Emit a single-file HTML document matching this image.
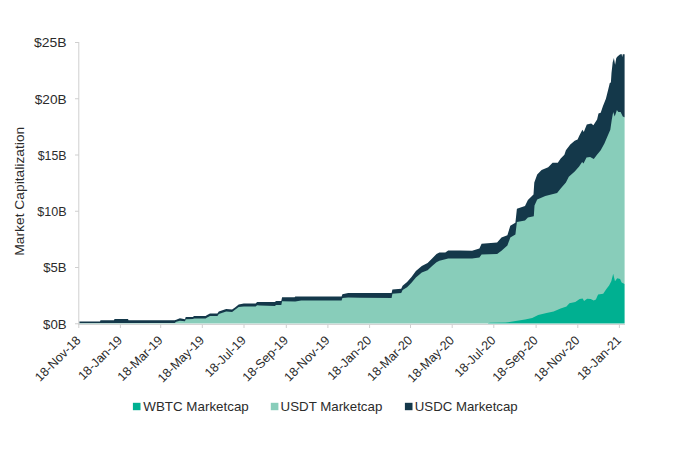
<!DOCTYPE html>
<html><head><meta charset="utf-8"><title>Market Capitalization</title>
<style>
html,body{margin:0;padding:0;background:#fff;}
body{width:680px;height:455px;overflow:hidden;position:relative;}
svg{position:absolute;left:0;top:0;display:block;}
text{font-family:"Liberation Sans",sans-serif;fill:#2b2b2b;}
</style></head><body>
<svg width="680" height="455" viewBox="0 0 680 455">
<rect width="680" height="455" fill="#fff"/>
<polygon points="79.3,326 79.3,321.5 100.0,321.5 100.5,320.3 114.0,320.3 114.5,319.0 128.0,319.0 128.5,320.3 160.0,320.3 174.7,320.3 176.2,319.7 179.9,318.2 185.0,319.3 185.7,317.1 193.1,317.1 193.8,315.9 205.6,315.9 207.1,314.9 210.0,313.4 217.4,313.4 218.8,311.5 223.2,310.0 226.2,309.0 232.1,309.4 235.0,307.5 238.7,304.6 243.8,303.5 255.6,303.5 257.1,302.1 260.0,302.1 274.7,302.1 276.2,300.9 281.3,300.9 282.1,297.2 294.6,297.2 295.3,296.5 341.6,296.5 342.4,294.3 348.2,293.1 360.0,293.1 391.6,293.1 392.4,289.4 401.2,288.7 402.6,285.7 407.1,282.1 411.5,276.9 415.9,271.0 421.8,265.9 427.6,262.9 432.1,258.5 436.5,254.1 439.4,252.6 445.3,252.4 448.2,250.5 460.0,250.5 472.1,250.7 479.4,248.5 481.6,243.8 497.1,242.6 501.5,237.5 507.4,235.3 510.3,225.7 515.4,222.8 516.9,208.8 525.0,205.9 527.9,200.0 533.5,194.4 534.3,182.6 537.2,174.6 541.6,170.1 548.2,167.2 552.6,162.8 557.8,162.8 560.7,158.4 564.4,154.7 565.9,150.3 570.3,144.4 574.7,140.7 577.6,139.5 579.4,135.6 582.4,129.7 583.8,131.9 586.8,124.6 591.2,123.5 593.4,125.3 597.1,119.4 598.5,113.5 600.7,112.8 602.9,106.2 605.9,98.8 608.1,90.0 609.8,83.1 610.9,82.5 611.5,73.0 612.7,62.3 613.9,58.1 615.1,64.7 616.3,58.1 617.5,56.4 619.9,54.6 621.6,54.0 622.2,57.0 622.8,54.2 624.6,54.2 627.0,54.2 627.0,326" fill="#14384A"/>
<polygon points="79.3,326 79.3,323.2 160.0,322.9 174.7,322.9 176.2,321.8 179.9,320.7 185.0,321.2 185.7,319.3 193.1,319.0 193.8,318.5 205.6,318.5 207.1,317.4 210.0,315.9 217.4,315.9 218.8,314.1 223.2,312.4 226.2,311.5 232.1,311.9 235.0,309.7 238.7,307.1 243.8,306.5 255.6,306.5 257.1,305.3 260.0,305.6 274.7,306.0 276.2,305.0 281.3,305.0 282.1,301.2 294.6,301.6 295.3,301.6 301.2,300.6 341.6,300.6 342.4,297.9 348.2,297.6 360.0,297.8 391.6,297.9 392.4,293.8 401.2,293.1 402.6,290.1 407.1,287.2 411.5,282.8 415.9,277.6 421.8,272.5 427.6,270.3 432.1,265.9 436.5,262.2 439.4,260.7 445.3,259.3 448.2,258.5 460.0,258.6 472.1,258.5 479.4,257.4 481.6,254.4 497.1,254.1 501.5,250.7 507.4,245.6 510.3,237.5 515.4,234.6 516.9,222.1 525.0,220.6 527.9,217.6 533.8,216.2 534.5,205.5 537.2,199.6 545.3,195.9 557.1,192.9 560.7,188.5 565.9,182.6 568.8,176.8 574.7,171.6 579.1,166.5 582.1,162.1 583.5,163.5 586.5,157.6 590.1,156.9 593.8,159.1 596.8,155.0 600.7,150.3 604.4,143.5 607.4,136.5 610.3,129.7 611.8,119.4 613.2,112.1 614.7,116.5 616.9,109.9 618.4,112.1 620.6,112.1 622.8,116.5 624.6,117.2 627.0,117.2 627.0,326" fill="#88CDBA"/>
<polygon points="488.0,326 488.0,323.2 490.0,322.8 505.5,322.5 515.6,321.1 525.1,319.4 532.2,317.9 538.2,314.9 546.5,313.1 553.6,311.4 560.6,308.4 566.5,306.5 569.4,303.2 575.3,302.1 579.7,299.1 582.6,298.5 584.1,301.0 587.1,298.8 590.7,299.1 593.7,300.6 595.9,299.6 598.1,294.4 603.2,293.7 606.2,289.3 609.1,285.6 611.3,281.2 613.2,273.8 615.0,281.2 617.2,278.2 620.1,279.0 621.6,282.6 624.6,284.1 627.0,284.1 627.0,326" fill="#00B091"/>
<rect x="624.6" y="40" width="6" height="290" fill="#fff"/>
<rect x="70" y="323.5" width="560" height="6" fill="#fff"/>
<g stroke="#cfcfcf" stroke-width="1" fill="none">
<line x1="78.8" y1="42" x2="78.8" y2="324.8"/>
<line x1="78.3" y1="324.4" x2="625" y2="324.4"/>
<line x1="75" y1="42.50" x2="78.8" y2="42.50"/>
<line x1="75" y1="98.75" x2="78.8" y2="98.75"/>
<line x1="75" y1="155.00" x2="78.8" y2="155.00"/>
<line x1="75" y1="211.25" x2="78.8" y2="211.25"/>
<line x1="75" y1="267.50" x2="78.8" y2="267.50"/>
<line x1="75" y1="323.75" x2="78.8" y2="323.75"/>
<line x1="78.8" y1="324.4" x2="78.8" y2="328"/>
<line x1="120.4" y1="324.4" x2="120.4" y2="328"/>
<line x1="160.7" y1="324.4" x2="160.7" y2="328"/>
<line x1="202.3" y1="324.4" x2="202.3" y2="328"/>
<line x1="244.0" y1="324.4" x2="244.0" y2="328"/>
<line x1="286.3" y1="324.4" x2="286.3" y2="328"/>
<line x1="327.9" y1="324.4" x2="327.9" y2="328"/>
<line x1="369.6" y1="324.4" x2="369.6" y2="328"/>
<line x1="410.5" y1="324.4" x2="410.5" y2="328"/>
<line x1="452.2" y1="324.4" x2="452.2" y2="328"/>
<line x1="493.8" y1="324.4" x2="493.8" y2="328"/>
<line x1="536.1" y1="324.4" x2="536.1" y2="328"/>
<line x1="577.8" y1="324.4" x2="577.8" y2="328"/>
<line x1="619.4" y1="324.4" x2="619.4" y2="328"/>
</g>
<text x="34.10" y="47.30" font-size="13.5" textLength="32.5" lengthAdjust="spacingAndGlyphs">$25B</text>
<text x="34.80" y="103.55" font-size="13.5" textLength="31.8" lengthAdjust="spacingAndGlyphs">$20B</text>
<text x="37.70" y="159.80" font-size="13.5" textLength="28.9" lengthAdjust="spacingAndGlyphs">$15B</text>
<text x="37.30" y="216.05" font-size="13.5" textLength="29.3" lengthAdjust="spacingAndGlyphs">$10B</text>
<text x="43.30" y="272.30" font-size="13.5" textLength="23.3" lengthAdjust="spacingAndGlyphs">$5B</text>
<text x="43.10" y="328.55" font-size="13.5" textLength="23.5" lengthAdjust="spacingAndGlyphs">$0B</text>
<text transform="translate(24,191.2) rotate(-90)" font-size="13.2" text-anchor="middle" textLength="129" lengthAdjust="spacingAndGlyphs">Market Capitalization</text>
<text transform="translate(81.4,341) rotate(-45)" font-size="12.5" text-anchor="end">18-Nov-18</text>
<text transform="translate(123.0,341) rotate(-45)" font-size="12.5" text-anchor="end">18-Jan-19</text>
<text transform="translate(163.3,341) rotate(-45)" font-size="12.5" text-anchor="end">18-Mar-19</text>
<text transform="translate(204.9,341) rotate(-45)" font-size="12.5" text-anchor="end">18-May-19</text>
<text transform="translate(246.6,341) rotate(-45)" font-size="12.5" text-anchor="end">18-Jul-19</text>
<text transform="translate(288.9,341) rotate(-45)" font-size="12.5" text-anchor="end">18-Sep-19</text>
<text transform="translate(330.5,341) rotate(-45)" font-size="12.5" text-anchor="end">18-Nov-19</text>
<text transform="translate(372.2,341) rotate(-45)" font-size="12.5" text-anchor="end">18-Jan-20</text>
<text transform="translate(413.1,341) rotate(-45)" font-size="12.5" text-anchor="end">18-Mar-20</text>
<text transform="translate(454.8,341) rotate(-45)" font-size="12.5" text-anchor="end">18-May-20</text>
<text transform="translate(496.4,341) rotate(-45)" font-size="12.5" text-anchor="end">18-Jul-20</text>
<text transform="translate(538.7,341) rotate(-45)" font-size="12.5" text-anchor="end">18-Sep-20</text>
<text transform="translate(580.4,341) rotate(-45)" font-size="12.5" text-anchor="end">18-Nov-20</text>
<text transform="translate(622.0,341) rotate(-45)" font-size="12.5" text-anchor="end">18-Jan-21</text>
<rect x="132.9" y="402.8" width="7.6" height="7.4" fill="#00B091"/>
<text x="143.3" y="411.4" font-size="13.3" textLength="105.5" lengthAdjust="spacingAndGlyphs">WBTC Marketcap</text>
<rect x="270.8" y="402.8" width="7.6" height="7.4" fill="#88CDBA"/>
<text x="280.6" y="411.4" font-size="13.3" textLength="101.7" lengthAdjust="spacingAndGlyphs">USDT Marketcap</text>
<rect x="404.9" y="402.8" width="7.6" height="7.4" fill="#14384A"/>
<text x="414.8" y="411.4" font-size="13.3" textLength="102.9" lengthAdjust="spacingAndGlyphs">USDC Marketcap</text>
</svg>
</body></html>
